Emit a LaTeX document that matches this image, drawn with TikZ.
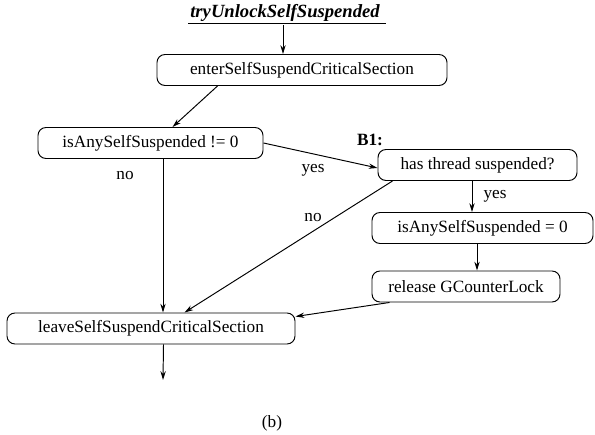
\documentclass[tikz,border=0pt]{standalone}
\usepackage{fontspec}
\setmainfont{Liberation Serif}
\usetikzlibrary{arrows.meta, positioning, calc}

\begin{document}
\begin{tikzpicture}[
    >={Stealth[length=5pt,width=3pt]},
    every path/.style={line width=0.55pt},
    stepbox/.style={rectangle, rounded corners=1.6mm, draw, minimum height=0.62cm, inner sep=1pt, font=\fontsize{9.8}{11}\selectfont},
    branch/.style={font=\fontsize{9.8}{11}\selectfont}
]
\useasboundingbox (0,0) rectangle (11.9,-8.7);

% title
\node[font=\fontsize{10.6}{12}\selectfont\bfseries\itshape, inner sep=1pt] (title) at (5.70,-0.25) {tryUnlockSelfSuspended};
\draw (title.south west) -- ($(title.south east)+(0.08,0)$);

% boxes
\node[stepbox, minimum width=5.8cm] (enter) at (6.04,-1.40) {enterSelfSuspendCriticalSection};
\node[stepbox, minimum width=4.5cm] (isAny) at (3.01,-2.86) {isAnySelfSuspended != 0};
\node[stepbox, minimum width=3.98cm] (hasThread) at (9.55,-3.30) {has thread suspended?};
\node[stepbox, minimum width=4.42cm] (isZero) at (9.65,-4.56) {isAnySelfSuspended = 0};
\node[stepbox, minimum width=3.76cm] (release) at (9.32,-5.73) {release GCounterLock};
\node[stepbox, minimum width=5.76cm] (leave) at (3.02,-6.57) {leaveSelfSuspendCriticalSection};

% labels
\node[font=\fontsize{9.8}{11}\selectfont\bfseries] (b1) at (7.40,-2.80) {B1:};
\node[branch] (noA) at (2.50,-3.52) {no};
\node[branch] (yesA) at (6.26,-3.40) {yes};
\node[branch] (noB) at (6.26,-4.36) {no};
\node[branch] (yesB) at (9.90,-3.92) {yes};
\node[branch] (caption) at (5.44,-8.46) {(b)};

% end points
\coordinate (titleOut) at ($(title.south)+(-0.04,-0.04)$);
\coordinate (isAnyOut) at ($(isAny.south)+(0.25,0)$);
\coordinate (hasOut) at ($(hasThread.south)+(-0.11,0)$);
\coordinate (zeroOut) at ($(isZero.south)+(-0.11,0)$);
\coordinate (leaveOut) at ($(leave.south)+(0.25,0)$);
\coordinate (out) at (3.26,-7.60);

% connectors
\draw[->] (titleOut) -- (titleOut |- enter.north);
\draw[->] ($(enter.south west)+(1.22,0)$) -- ($(isAny.north west)+(2.70,0)$);
\draw[->] (isAnyOut) -- (isAnyOut |- leave.north);
\draw[->] (isAny.east) -- ($(hasThread.west)+(0,-0.06)$);
\draw[->] ($(hasThread.south west)+(0.30,0)$) -- ($(leave.north west)+(3.56,0)$);
\draw[->] (hasOut) -- (hasOut |- isZero.north);
\draw[->] (zeroOut) -- (zeroOut |- release.north);
\draw[->] ($(release.south west)+(0.36,0)$) -- ($(leave.north east)+(0,-0.08)$);
\draw[->] (leaveOut) -- (out);
\end{tikzpicture}
\end{document}
